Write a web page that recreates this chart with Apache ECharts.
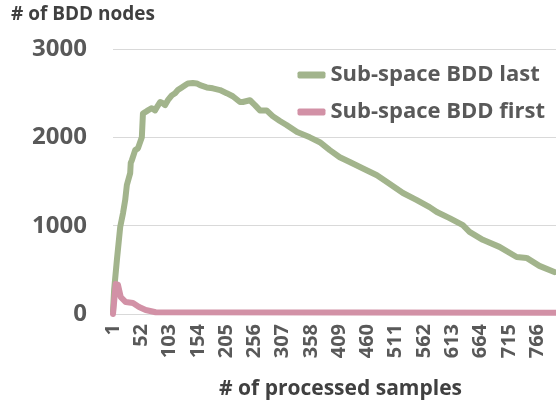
<!DOCTYPE html>
<html>
<head>
<meta charset="utf-8">
<script src="https://cdn.jsdelivr.net/npm/echarts@6/dist/echarts.min.js"></script>
<style>
  html, body { margin: 0; padding: 0; background: #fff; }
  #chart { width: 556px; height: 405px; }
</style>
</head>
<body>
<div id="chart"></div>
<script>
// x axis: processed sample index 1..800, a label every 51 samples
const sampleCount = 800
const categories = Array.from({ length: sampleCount }, (_, i) => String(i + 1))

// Sub-space BDD last
const lastSamples = [
  1, 3, 8, 14, 19, 23, 26, 32, 33, 35, 41, 46, 53, 55, 59, 64, 71, 77, 80, 86,
  89, 91, 95, 100, 107, 113, 118, 125, 131, 136, 145, 152, 158, 170, 181, 194,
  206, 217, 230, 235, 248, 257, 266, 278, 289, 302, 314, 333, 356, 374, 392,
  410, 428, 451, 477, 495, 524, 549, 572, 585, 608, 632, 644, 668, 698, 729,
  747, 770, 797,
]
const lastValues = [
  30, 270, 610, 985, 1140, 1290, 1460, 1595, 1710, 1740, 1855, 1875, 2000, 2270,
  2285, 2305, 2330, 2305, 2340, 2400, 2420, 2385, 2365, 2420, 2475, 2500, 2535,
  2565, 2590, 2610, 2615, 2610, 2590, 2565, 2555, 2535, 2500, 2465, 2400, 2400,
  2420, 2365, 2305, 2305, 2240, 2185, 2140, 2060, 2000, 1945, 1855, 1775, 1720,
  1650, 1570, 1495, 1370, 1290, 1210, 1155, 1085, 1005, 930, 840, 760, 645, 635,
  545, 475,
]

// Sub-space BDD first
const firstSamples = [1, 6, 10, 15, 24, 37, 48, 60, 78, 800]
const firstValues = [0, 340, 330, 190, 135, 125, 80, 45, 20, 15]

const toPoints = (xs, ys) => xs.map((s, i) => [s - 1, ys[i]])

const chart = echarts.init(document.getElementById('chart'))

const textColor = '#595959'
const font = '"Open Sans", sans-serif'

chart.setOption({
  animation: false,
  textStyle: { fontFamily: font },
  title: {
    text: '# of BDD nodes',
    left: 6,
    top: 0,
    textStyle: { fontSize: 19, fontWeight: 'bold', color: '#404040', fontFamily: font },
  },
  legend: {
    orient: 'vertical',
    right: 6,
    top: 59,
    itemGap: 15,
    itemWidth: 28,
    itemHeight: 7,
    icon: 'roundRect',
    textStyle: { fontSize: 22, fontWeight: 'bold', color: textColor, fontFamily: font },
    data: ['Sub-space BDD last', 'Sub-space BDD first'],
  },
  grid: { left: 113, right: 0, top: 49, bottom: 91, outerBoundsMode: 'none' },
  xAxis: {
    type: 'category',
    data: categories,
    boundaryGap: false,
    name: '# of processed samples',
    nameLocation: 'middle',
    nameGap: 65,
    nameTextStyle: {
      fontSize: 21,
      fontWeight: 'bold',
      color: '#404040',
      fontFamily: font,
      padding: [0, 0, 0, 12],
    },
    axisLine: { lineStyle: { color: '#d9d9d9' } },
    axisTick: { show: false },
    axisLabel: {
      interval: 50,
      rotate: 90,
      margin: 10,
      fontSize: 20,
      fontWeight: 'bold',
      color: textColor,
      fontFamily: font,
    },
    splitLine: { show: false },
  },
  yAxis: {
    type: 'value',
    min: 0,
    max: 3000,
    interval: 1000,
    axisLine: { show: false },
    axisTick: { show: false },
    axisLabel: {
      margin: 26,
      fontSize: 24,
      fontWeight: 'bold',
      color: textColor,
      fontFamily: font,
      formatter: (v) => String(v),
    },
    splitLine: { lineStyle: { color: '#d9d9d9' } },
  },
  series: [
    {
      name: 'Sub-space BDD last',
      type: 'line',
      symbol: 'none',
      color: '#a2b48c',
      lineStyle: { width: 6, color: '#a2b48c', cap: 'round', join: 'round' },
      data: toPoints(lastSamples, lastValues),
    },
    {
      name: 'Sub-space BDD first',
      type: 'line',
      symbol: 'none',
      color: '#d291a6',
      lineStyle: { width: 6, color: '#d291a6', cap: 'round', join: 'round' },
      data: toPoints(firstSamples, firstValues),
    },
  ],
})
</script>
</body>
</html>
